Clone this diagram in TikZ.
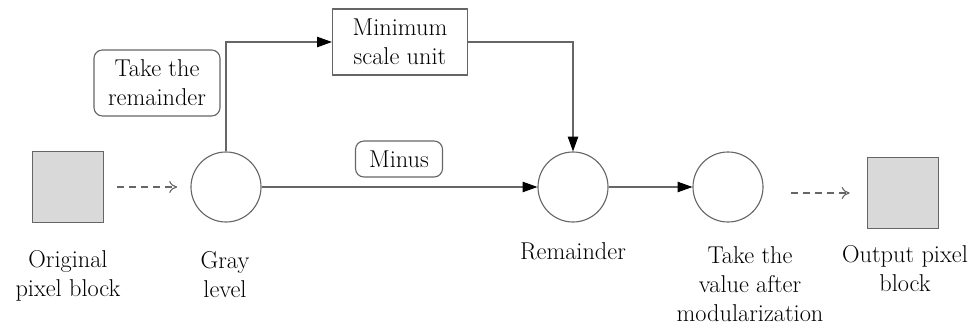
\documentclass[tikz,border=0pt]{standalone}
\usetikzlibrary{arrows.meta}

\begin{document}
\begin{tikzpicture}[x=0.025cm, y=-0.025cm,
    every node/.style={font=\fontsize{17.3}{20.6}\selectfont, align=center},
    line/.style={draw=black!60, line width=0.8pt},
    arr/.style={line, -{Triangle[length=0.37cm, width=0.26cm, color=black]}},
    dasharr/.style={line, dashed, dash pattern=on 5pt off 3.5pt, -{To[length=0.2cm, width=0.3cm]}},
    pixbox/.style={draw=black!60, line width=0.8pt, fill=black!15, minimum size=1.775cm, inner sep=0pt},
    dot/.style={circle, draw=black!60, line width=0.8pt, minimum size=1.75cm, inner sep=0pt},
    opbox/.style={draw=black!60, line width=0.8pt, rounded corners=6pt, inner sep=0pt}]
    \useasboundingbox (0,0) rectangle (972,327);

    % Define the blocks and circles
    \node[pixbox] (orig) at (68,187) {};
    \node[dot] (gray) at (226,187) {};
    \node[dot] (rem) at (573,187) {};
    \node[dot] (tv) at (728,187) {};
    \node[pixbox] (out) at (903,193) {};
    \node[draw=black!60, line width=0.8pt, minimum width=3.375cm, minimum height=1.65cm, inner sep=0pt] (msu) at (400,42) {Minimum\\scale unit};

    % Place the operation labels
    \node[opbox, minimum width=3.15cm, minimum height=1.65cm] (take) at (157,83) {Take the\\remainder};
    \node[opbox, minimum width=2.175cm, minimum height=0.9cm] (minus) at (399,159) {Minus};

    % Draw the connections
    \draw[dasharr, shorten <=0.33cm, shorten >=0.33cm] (orig) -- (gray);
    \draw[arr] (gray.north) |- (msu.west);
    \draw[arr] (msu.east) -| (rem.north);
    \draw[arr] (gray.east) -- (rem.west);
    \draw[arr] (rem.east) -- (tv.west);
    \draw[dasharr, shorten <=0.68cm, shorten >=0.43cm] (tv.east |- out.west) -- (out.west);

    % Place the names below
    \node (origtxt) at (68,276) {Original\\pixel block};
    \node (graytxt) at (225,275) {Gray\\level};
    \node (remtxt) at (573,251) {Remainder};
    \node (tvtxt) at (750,284) {Take the\\value after\\modularization};
    \node (outtxt) at (905,269) {Output pixel\\block};

\end{tikzpicture}
\end{document}
